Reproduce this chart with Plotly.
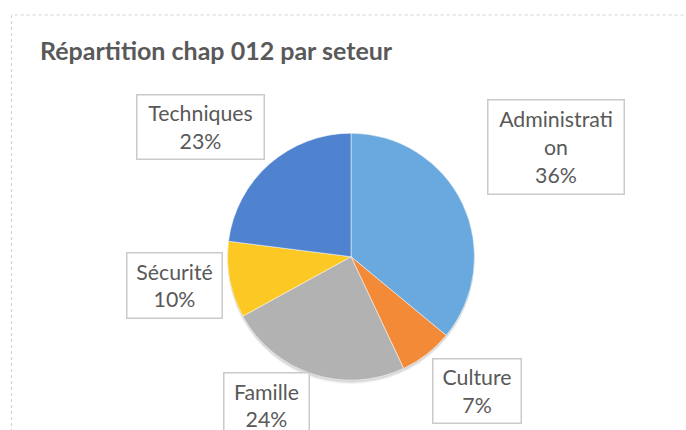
import plotly.graph_objects as go

# Data
categories = ["Administration", "Culture", "Famille", "Sécurité", "Techniques"]
values = [36, 7, 24, 10, 23]
label_texts = ["Administrati<br>on<br>36%", "Culture<br>7%", "Famille<br>24%", "Sécurité<br>10%", "Techniques<br>23%"]
colors = ["#69a9dd", "#f28a38", "#b2b2b2", "#fcc823", "#5083cf"]

W, H = 686, 430
cx, cy, r = 351, 256.7, 123.5

fig = go.Figure()
fig.add_trace(go.Pie(
    labels=categories, values=values, sort=False, direction="clockwise", rotation=0,
    marker=dict(colors=colors, line=dict(color="white", width=0.5)),
    textinfo="none", hoverinfo="label+percent", showlegend=False,
    domain=dict(x=[(cx - r) / W, (cx + r) / W], y=[1 - (cy + r) / H, 1 - (cy - r) / H]),
))

# label boxes: center x, center y, width, height (pixels)
boxes = [
    (556.3, 146.7, 137, 95),
    (476.7, 390.5, 89, 65),
    (266.8, 405.7, 86, 66),
    (174.0, 285.7, 96, 66),
    (200.5, 127.3, 128, 65),
]
for txt, (bx, by, bw, bh) in zip(label_texts, boxes):
    fig.add_annotation(
        text=txt, xref="paper", yref="paper", x=bx / W, y=1 - by / H,
        xanchor="center", yanchor="middle", showarrow=False,
        width=bw - 2, height=bh - 2, borderpad=0, bordercolor="#cacaca", borderwidth=1.5,
        bgcolor="white", align="center", valign="middle",
        font=dict(family="Lato", size=21.3, color="#595959"),
    )

shapes = []
# soft shadow behind pie (mostly below)
for d, a in [(4, 0.04), (3, 0.05), (2, 0.07)]:
    shapes.append(dict(type="circle", xref="paper", yref="paper", layer="below",
                       x0=(cx - r) / W, x1=(cx + r) / W,
                       y0=1 - (cy + r + d) / H, y1=1 - (cy - r + d) / H,
                       fillcolor=f"rgba(0,0,0,{a})", line=dict(width=0)))
# dotted chart-area border
shapes.append(dict(type="rect", xref="paper", yref="paper", layer="below",
                   x0=11.5 / W, x1=1.05, y0=-0.05, y1=1 - 15 / H,
                   line=dict(color="#d4d4d4", width=1.2, dash="dot"), fillcolor="rgba(0,0,0,0)"))

fig.update_layout(
    width=W, height=H, margin=dict(l=0, r=0, t=0, b=0),
    paper_bgcolor="white", plot_bgcolor="white",
    title=dict(text="Répartition chap 012 par seteur", x=40 / W, xanchor="left", xref="paper",
               y=1 - 51 / H, yanchor="middle", yref="container",
               font=dict(family="Lato", size=25, color="#595959", weight="bold")),
    shapes=shapes,
)

fig.write_html("out.html", config={"displayModeBar": False},
               post_script="document.body.style.margin='0px';document.body.style.overflow='hidden';")
